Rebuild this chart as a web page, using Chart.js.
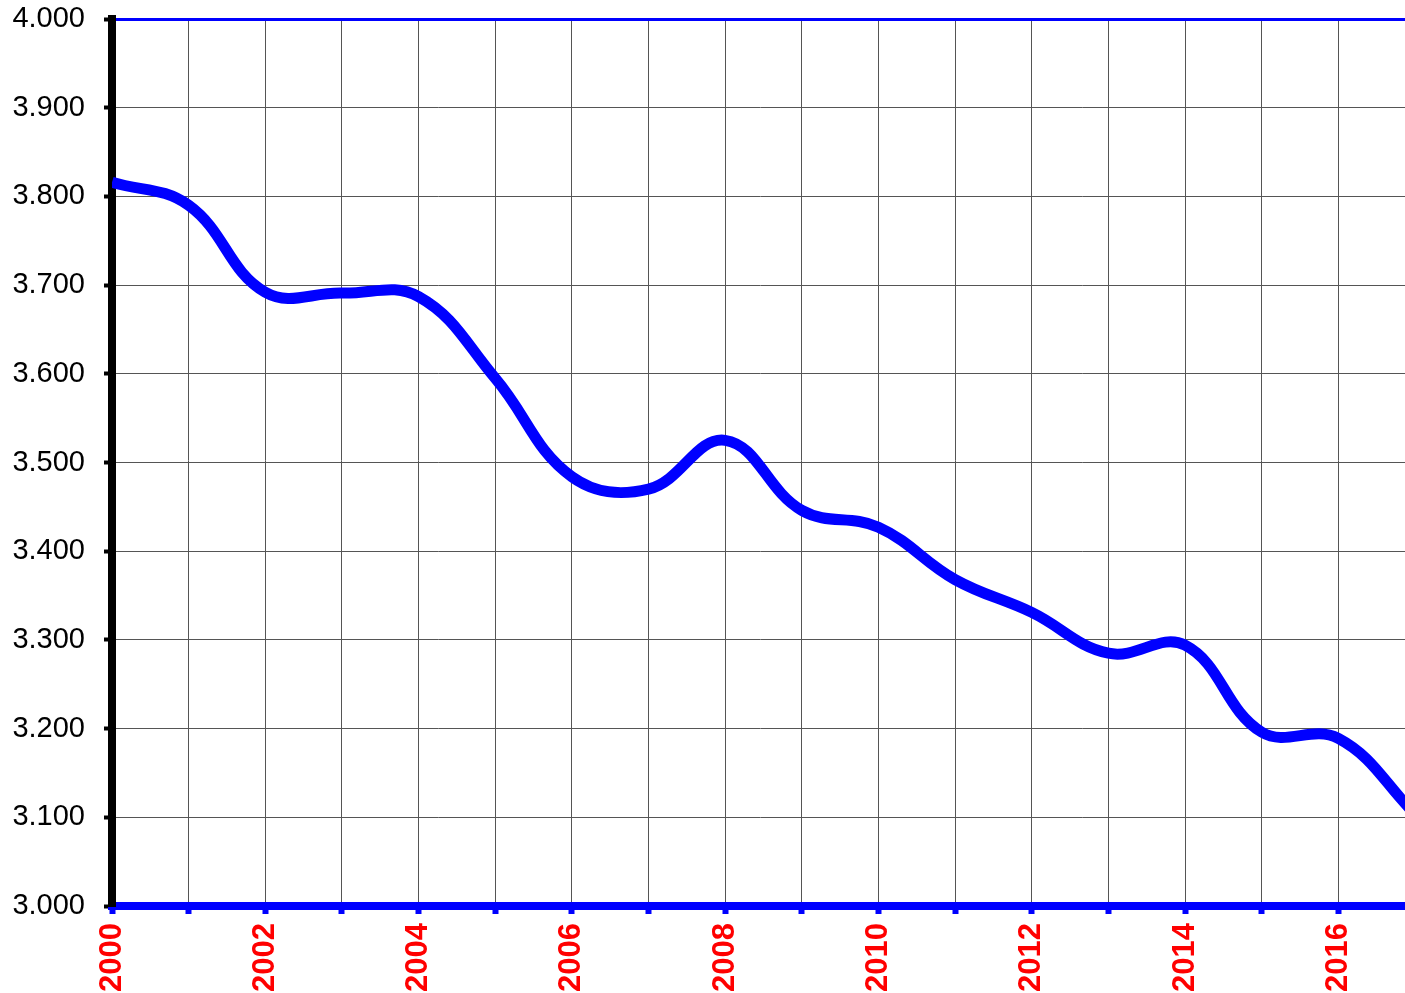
<!DOCTYPE html>
<html>
<head>
<meta charset="utf-8">
<script src="https://cdn.jsdelivr.net/npm/chart.js@4/dist/chart.umd.min.js"></script>
<style>
  html, body { margin: 0; padding: 0; background: #fff; }
  #wrap { width: 1405px; height: 993px; }
</style>
</head>
<body>
<div id="wrap"><canvas id="myCanvas"></canvas></div>
<script>
// yearly values
const years = [2000, 2001, 2002, 2003, 2004, 2005, 2006, 2007, 2008, 2009, 2010, 2011, 2012, 2013, 2014, 2015, 2016, 2017];
const values = [3.816, 3.790, 3.692, 3.691, 3.687, 3.595, 3.484, 3.470, 3.525, 3.446, 3.427, 3.368, 3.331, 3.285, 3.294, 3.196, 3.189, 3.104];
const xMin = 2000;
const xMax = 2016.87;
const yMin = 3.0;
const yMax = 4.0;

const points = years.map((yr, i) => ({ x: yr, y: values[i] }));

const canvas = document.getElementById('myCanvas');
new Chart(canvas, {
  type: 'line',
  data: {
    datasets: [{
      data: points,
      borderColor: '#0000ff',
      borderWidth: 11,
      pointRadius: 0,
      tension: 0.4,
      fill: false
    }]
  },
  options: {
    responsive: true,
    maintainAspectRatio: false,
    animation: false,
    layout: { padding: { top: 19, right: 0, left: 0, bottom: 0 } },
    plugins: { legend: { display: false }, tooltip: { enabled: false } },
    scales: {
      x: {
        type: 'linear',
        min: xMin,
        max: xMax,
        afterFit: s => { s.height = 87; s.paddingLeft = 0; s.paddingRight = 0; },
        border: { display: true, color: '#0000ff', width: 8 },
        grid: {
          color: '#555',
          lineWidth: 1,
          tickColor: '#0000ff',
          tickWidth: 6,
          tickLength: 8
        },
        ticks: {
          stepSize: 1,
          autoSkip: false,
          includeBounds: false,
          maxRotation: 90,
          minRotation: 90,
          padding: 9,
          color: '#ff0000',
          font: { family: 'Liberation Sans, Arial, sans-serif', size: 31, weight: 'bold' },
          callback: v => (v % 2 === 0 ? String(v) : '')
        }
      },
      y: {
        min: yMin,
        max: yMax,
        afterFit: s => { s.width = 112; s.paddingTop = 0; s.paddingBottom = 0; },
        border: { display: true, color: '#000', width: 8 },
        grid: {
          color: ctx => (Math.abs(ctx.tick.value - yMax) < 1e-6 ? '#0000ff' : '#555'),
          lineWidth: ctx => (Math.abs(ctx.tick.value - yMax) < 1e-6 ? 3 : 1),
          tickColor: '#000',
          tickWidth: 4,
          tickLength: 8
        },
        ticks: {
          stepSize: 0.1,
          padding: 19,
          color: '#000',
          font: { family: 'Liberation Sans, Arial, sans-serif', size: 29 },
          callback: v => Number(v).toFixed(3)
        }
      }
    }
  }
});
</script>
</body>
</html>
